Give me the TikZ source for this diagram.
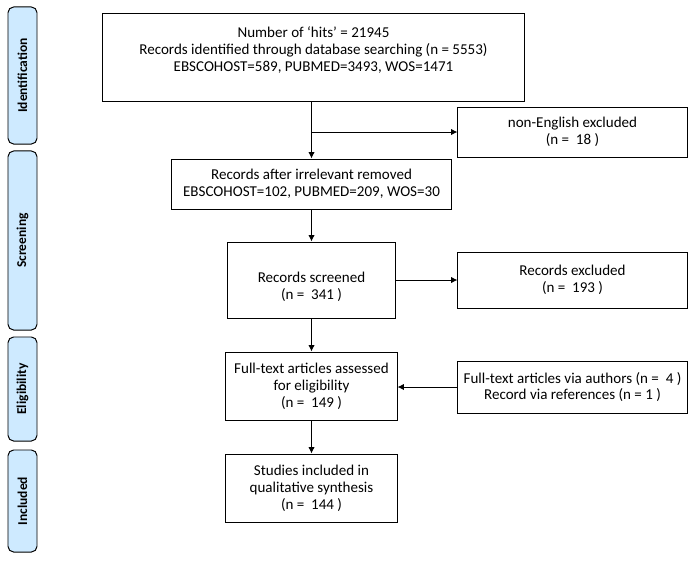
\documentclass[tikz,border=0pt]{standalone}
\usepackage{fontspec}
\setmainfont{Carlito}
\usetikzlibrary{positioning,arrows.meta,calc}
\definecolor{tabblue}{RGB}{206,234,255}

\begin{document}
\begin{tikzpicture}[x=0.025cm, y=-0.025cm,
    ->, > = {Latex[length=4.5pt,width=4.5pt]}, line width=0.7pt,
    every node/.style={align=center, font=\fontsize{10.7}{12}\selectfont},
    box/.style={draw, rectangle, inner sep=0pt},
    tab/.style={draw, fill=tabblue, rounded corners=4pt, rotate=90,
        minimum height=0.725cm, inner sep=0pt, font=\fontsize{9.6}{12}\selectfont\bfseries}]
    \useasboundingbox (0,0) rectangle (694,560);

    % phase tabs
    \node[tab, minimum width=3.425cm] (tabIdent) at (22.5,75.5) {Identification};
    \node[tab, minimum width=4.475cm] (tabScreen) at (22.5,240.5) {Screening};
    \node[tab, minimum width=2.6cm] (tabElig) at (22.5,389) {Eligibility};
    \node[tab, minimum width=2.55cm] (tabIncl) at (22.5,501) {Included};

    % main column
    \node[box, minimum width=10.525cm, minimum height=2.175cm] (hits) at (313.5,57.5) {};
    \node (hitsText) at (313.5,50) {Number of ‘hits’ = 21945\\
        Records identified through database searching (n = 5553)\\
        EBSCOHOST=589, PUBMED=3493, WOS=1471};
    \node[box, minimum width=6.975cm, minimum height=1.25cm] (removed) at (311.5,184)
        {Records after irrelevant removed\\EBSCOHOST=102, PUBMED=209, WOS=30};
    \node[box, minimum width=4.175cm, minimum height=1.9cm] (screened) at (311.5,280) {};
    \node (screenedText) at (311.5,287) {Records screened\\(n =\ \ 341 )};
    \node[box, minimum width=4.275cm, minimum height=1.7cm] (fulltext) at (311.5,386)
        {Full-text articles assessed\\for eligibility\\(n =\ \ 149 )};
    \node[box, minimum width=4.275cm, minimum height=1.7cm] (studies) at (311.5,488)
        {Studies included in\\qualitative synthesis\\(n =\ \ 144 )};

    % side column
    \node[box, minimum width=5.725cm, minimum height=1.25cm] (nonEng) at (572.5,132)
        {non-English excluded\\(n =\ \ 18 )};
    \node[box, minimum width=5.725cm, minimum height=1.4cm] (excluded) at (572.5,280)
        {Records excluded\\(n =\ \ 193 )};
    \node[box, minimum width=5.725cm, minimum height=1.3cm] (authors) at (572.5,387)
        {Full-text articles via authors (n =\ \ 4 )\\Record via references (n = 1 )};

    % connectors
    \draw (removed.north |- hits.south) -- (removed.north);
    \coordinate (split) at (removed.north |- nonEng.west);
    \draw (split) -- (nonEng.west);
    \draw (removed.south) -- (screened.north);
    \draw (screened.east |- excluded.west) -- (excluded.west);
    \draw (screened.south) -- (fulltext.north);
    \draw (authors.west) -- (authors.west -| fulltext.east);
    \draw (fulltext.south) -- (studies.north);
\end{tikzpicture}
\end{document}
